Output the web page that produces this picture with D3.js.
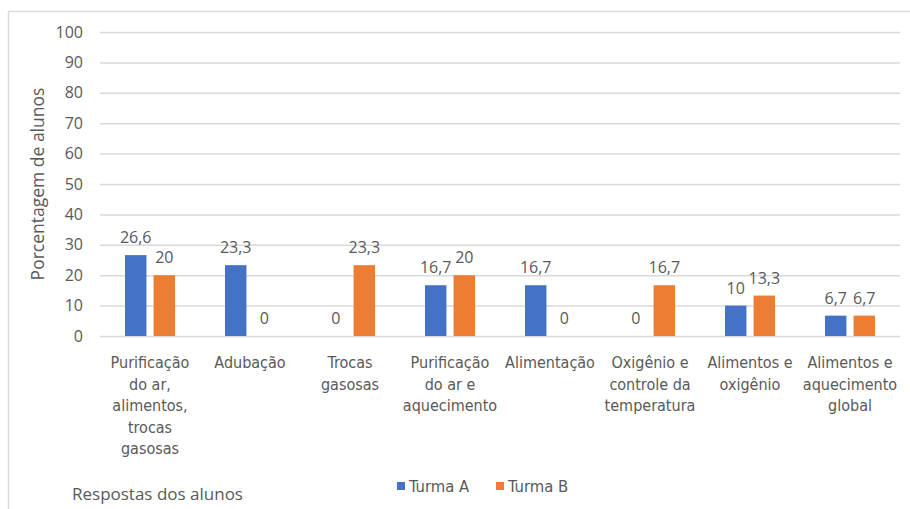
<!DOCTYPE html>
<html>
<head>
  <meta charset="UTF-8" />
  <style>
    body { margin: 0; background: #fff; }
    svg { font-family: "Liberation Sans Narrow", "DejaVu Sans Condensed", "Open Sans", sans-serif; }
  </style>
  <script src="https://d3js.org/d3.v7.min.js"></script>
</head>
<body>
  <div id="chart"></div>
  <script>
    const categories = [
      ["Purificação", "do ar,", "alimentos,", "trocas", "gasosas"],
      ["Adubação"],
      ["Trocas", "gasosas"],
      ["Purificação", "do ar e", "aquecimento"],
      ["Alimentação"],
      ["Oxigênio e", "controle da", "temperatura"],
      ["Alimentos e", "oxigênio"],
      ["Alimentos e", "aquecimento", "global"]
    ];
    const turmaA = [26.6, 23.3, 0, 16.7, 16.7, 0, 10, 6.7];
    const turmaB = [20, 0, 23.3, 20, 0, 16.7, 13.3, 6.7];
    const series = ["Turma A", "Turma B"];
    const yTicks = [0, 10, 20, 30, 40, 50, 60, 70, 80, 90, 100];

    const W = 910, H = 509;
    const margin = { top: 32, right: 10, bottom: 173, left: 100 };
    const width = 900 - margin.left, height = 336 - margin.top;
    const colors = ["#4472C4", "#ED7D31"];
    const textColor = "#595959";

    const svg = d3.select("#chart").append("svg")
      .attr("width", W).attr("height", H);

    // outer chart frame (top and left edges visible)
    svg.append("path")
      .attr("d", "M8.5,520 L8.5,11.5 L915,11.5")
      .attr("fill", "none").attr("stroke", "#d9d9d9").attr("stroke-width", 1.5);

    const g = svg.append("g").attr("transform", "translate(" + margin.left + "," + margin.top + ")");

    const x = d3.scaleBand().domain(d3.range(categories.length)).range([0, width]);
    const x1 = d3.scaleBand().domain([0, 1]).range([25, 75]).paddingInner(0.25);
    const y = d3.scaleLinear().domain([0, 100]).range([height, 0]);

    // gridlines
    g.append("g").selectAll("line").data(yTicks).enter().append("line")
      .attr("x1", 0).attr("x2", width)
      .attr("y1", d => y(d) + 0.5).attr("y2", d => y(d) + 0.5)
      .attr("stroke", "#d9d9d9").attr("stroke-width", 1.5);

    // y axis
    const yAxis = g.append("g").call(d3.axisLeft(y).tickValues(yTicks).tickSize(0).tickPadding(17));
    yAxis.select(".domain").remove();
    yAxis.selectAll("text").attr("fill", textColor).style("font-size", "16px")
      .style("font-family", "'Open Sans', sans-serif").attr("font-size", null);

    // bars
    const groups = g.selectAll(".grp").data(categories).enter().append("g")
      .attr("transform", (d, i) => "translate(" + x(i) + ",0)");

    const vals = [turmaA, turmaB];
    vals.forEach((arr, s) => {
      groups.append("rect")
        .attr("x", x1(s))
        .attr("width", x1.bandwidth())
        .attr("y", (d, i) => y(arr[i]))
        .attr("height", (d, i) => height - y(arr[i]))
        .attr("fill", colors[s]);
      groups.append("text")
        .attr("x", x1(s) + x1.bandwidth() / 2)
        .attr("y", (d, i) => y(arr[i]) - 12)
        .attr("text-anchor", "middle")
        .attr("fill", textColor)
        .style("font-family", "'Open Sans', sans-serif")
        .style("font-size", "16px")
        .text((d, i) => String(arr[i]).replace(".", ","));
    });

    // category labels
    groups.append("text")
      .attr("text-anchor", "middle")
      .attr("fill", textColor)
      .style("font-size", "16px")
      .selectAll("tspan").data(d => d).enter().append("tspan")
      .attr("x", x.bandwidth() / 2)
      .attr("y", (d, i) => height + 32 + i * 21.5)
      .text(d => d);

    // y axis title
    svg.append("text")
      .attr("transform", "translate(44,184) rotate(-90)")
      .attr("text-anchor", "middle")
      .attr("fill", textColor)
      .style("font-family", "'Open Sans', sans-serif")
      .style("font-size", "17.5px")
      .text("Porcentagem de alunos");

    // x axis title
    svg.append("text")
      .attr("x", 72).attr("y", 500)
      .attr("fill", textColor)
      .style("font-family", "'Open Sans', sans-serif")
      .style("font-size", "17px")
      .text("Respostas dos alunos");

    // legend
    const legend = svg.append("g").attr("transform", "translate(397,486)");
    series.forEach((s, i) => {
      const lg = legend.append("g").attr("transform", "translate(" + (i * 99) + ",0)");
      lg.append("rect").attr("x", 0).attr("y", -4).attr("width", 8).attr("height", 8).attr("fill", colors[i]);
      lg.append("text").attr("x", 12).attr("y", 6).attr("fill", textColor)
        .style("font-size", "16.5px").text(s);
    });
  </script>
</body>
</html>
